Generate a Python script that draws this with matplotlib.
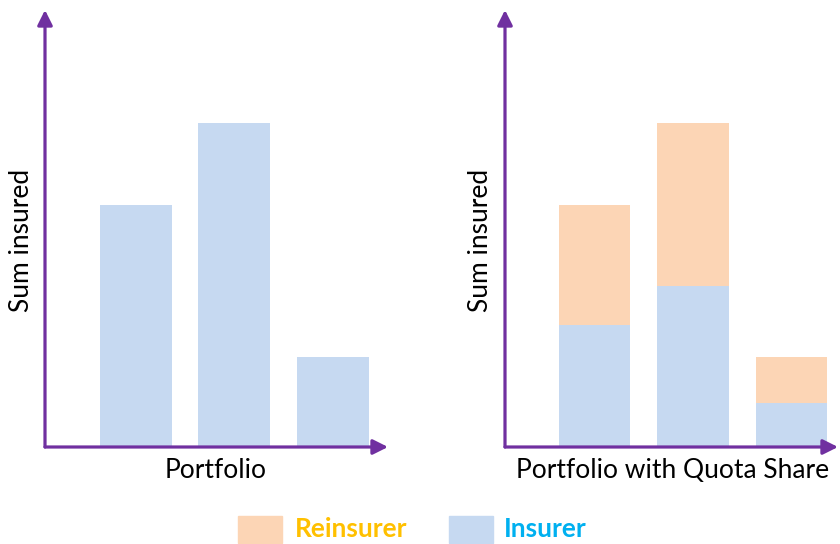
import matplotlib.pyplot as plt
from matplotlib.patches import Rectangle

W, H = 840, 544

# data (arbitrary units, baseline = 0)
positions = [1, 2, 3]
total_sum = [242, 324, 90]
insurer_share = [122, 161, 44]
reinsurer_share = [t - i for t, i in zip(total_sum, insurer_share)]

insurer_color = '#C6D9F1'
reinsurer_color = '#FCD5B5'
axis_color = '#7030A0'
font = ['Lato', 'DejaVu Sans']


def px_box(x0, y0, x1, y1):
    # pixel box (top-left origin) -> figure fraction [left, bottom, width, height]
    return [x0 / W, 1 - y1 / H, (x1 - x0) / W, (y1 - y0) / H]


def draw_axes(ax, xlim):
    ax.set_xlim(*xlim)
    ax.set_ylim(0, 437)
    ax.axis('off')
    arrow = dict(arrowstyle='-|>,head_length=0.9,head_width=0.45', color=axis_color,
                 linewidth=2.3, shrinkA=0, shrinkB=0)
    ax.annotate('', xy=(0, 1), xytext=(0, 0), xycoords='axes fraction',
                arrowprops=arrow, annotation_clip=False)
    ax.annotate('', xy=(1, 0), xytext=(0, 0), xycoords='axes fraction',
                arrowprops=arrow, annotation_clip=False)


fig = plt.figure(figsize=(W / 100, H / 100), dpi=100)

ax1 = fig.add_axes(px_box(45, 10, 388, 447))
ax1.bar(positions, total_sum, width=0.73, color=insurer_color)
draw_axes(ax1, (0.076, 3.56))

ax2 = fig.add_axes(px_box(505, 10, 838, 447))
ax2.bar(positions, insurer_share, width=0.73, color=insurer_color)
ax2.bar(positions, reinsurer_share, width=0.73, bottom=insurer_share, color=reinsurer_color)
draw_axes(ax2, (0.091, 3.472))

# labels
fs = 19
fig.text(22 / W, 1 - 240 / H, 'Sum insured', rotation=90, ha='center', va='center',
         fontsize=fs, family=font)
fig.text(481 / W, 1 - 240 / H, 'Sum insured', rotation=90, ha='center', va='center',
         fontsize=fs, family=font)
fig.text(216 / W, 1 - 471 / H, 'Portfolio', ha='center', va='center', fontsize=fs, family=font)
fig.text(673 / W, 1 - 471 / H, 'Portfolio with Quota Share', ha='center', va='center',
         fontsize=fs, family=font)

# legend
fig.patches.append(Rectangle((238 / W, 1 - 543 / H), 44 / W, 27 / H,
                             transform=fig.transFigure, color=reinsurer_color))
fig.patches.append(Rectangle((449 / W, 1 - 543 / H), 44 / W, 27 / H,
                             transform=fig.transFigure, color=insurer_color))
fig.text(295 / W, 1 - 529 / H, 'Reinsurer', ha='left', va='center', fontsize=fs,
         fontweight='bold', color='#FFC000', family=font)
fig.text(504 / W, 1 - 529 / H, 'Insurer', ha='left', va='center', fontsize=fs,
         fontweight='bold', color='#00B0F0', family=font)

fig.savefig('out.png', dpi=100)
